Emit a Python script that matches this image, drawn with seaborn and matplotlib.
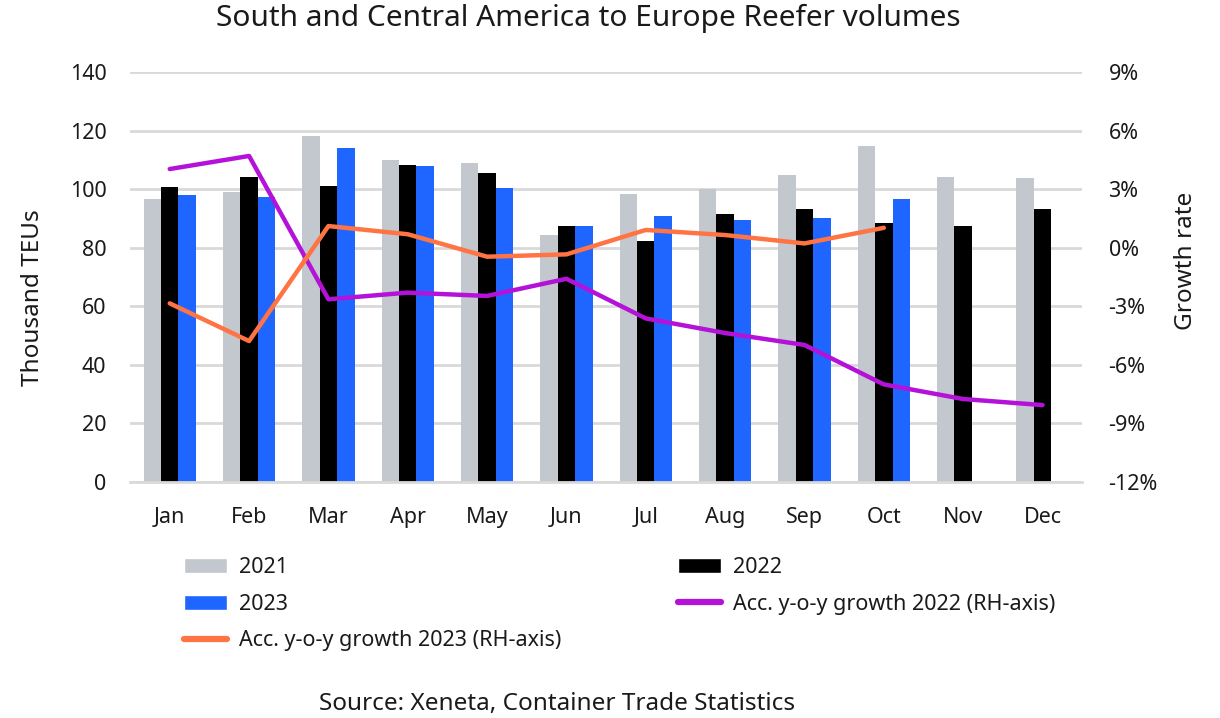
import numpy as np
import pandas as pd
import matplotlib
matplotlib.use("Agg")
import matplotlib.pyplot as plt
import seaborn as sns
from matplotlib.patches import Patch
from matplotlib.lines import Line2D

months = ["Jan", "Feb", "Mar", "Apr", "May", "Jun",
          "Jul", "Aug", "Sep", "Oct", "Nov", "Dec"]
vol_2021 = [96.6, 99.0, 118.2, 109.9, 109.0, 84.2, 98.2, 100.2, 104.7, 114.7, 104.2, 103.9]
vol_2022 = [100.6, 104.2, 101.0, 108.2, 105.4, 87.4, 82.2, 91.4, 93.1, 88.5, 87.4, 93.1]
vol_2023 = [97.9, 97.4, 113.9, 107.9, 100.3, 87.4, 91.0, 89.5, 90.3, 96.6, None, None]
growth_2022 = [4.03, 4.70, -2.64, -2.30, -2.47, -1.59, -3.62, -4.37, -4.98, -7.00, -7.75, -8.06]
growth_2023 = [-2.85, -4.78, 1.11, 0.69, -0.46, -0.34, 0.91, 0.65, 0.22, 1.02, None, None]

left_ticks = [0, 20, 40, 60, 80, 100, 120, 140]
right_ticks = [-12, -9, -6, -3, 0, 3, 6, 9]
right_tick_labels = ["-12%", "-9%", "-6%", "-3%", "0%", "3%", "6%", "9%"]

c21, c22, c23 = "#c3c7ce", "#000000", "#1f65ff"
c_g22, c_g23 = "#b512d9", "#ff7442"
grid_c = "#d9d9d9"
txt_c = "#1a1a1a"
fs = 15.5

sns.set_theme(style="white")
plt.rcParams["font.family"] = ["Noto Sans", "DejaVu Sans"]

rows = []
for yr, vals in (("2021", vol_2021), ("2022", vol_2022), ("2023", vol_2023)):
    for m, v in zip(months, vals):
        rows.append({"month": m, "year": yr, "teu": np.nan if v is None else v})
df = pd.DataFrame(rows)

fig = plt.figure(figsize=(12.2, 7.18), dpi=100)
ax = fig.add_axes([0.1066, 0.3287, 0.7804, 0.571])

sns.barplot(data=df, x="month", y="teu", hue="year", order=months,
            hue_order=["2021", "2022", "2023"],
            palette=[c21, c22, c23], width=0.66, gap=0,
            saturation=1, linewidth=0, ax=ax, legend=False, zorder=2)

ax.set_ylim(0, 140)
ax.set_xlim(-0.5, 11.5)
ax.set_yticks(left_ticks)
ax.yaxis.grid(True, color=grid_c, linewidth=2, zorder=0)
ax.set_axisbelow(True)
for name, s in ax.spines.items():
    s.set_visible(name == "bottom")
ax.spines["bottom"].set_color(grid_c)
ax.spines["bottom"].set_linewidth(2)
ax.set_xticks(np.arange(-0.5, 12, 1), minor=True)
ax.tick_params(axis="x", which="minor", length=6, width=2, color=grid_c)
ax.tick_params(axis="both", which="major", length=0, labelsize=fs, colors=txt_c)
ax.tick_params(axis="x", which="major", pad=18)
ax.tick_params(axis="y", which="major", pad=17)
ax.set_xlabel("")
ax.set_ylabel("Thousand TEUs", fontsize=17.5, color=txt_c)
ax.yaxis.set_label_coords(-0.089, 0.45)

ax2 = ax.twinx()
xs = np.arange(len(months))
g22 = pd.DataFrame({"x": xs, "g": growth_2022})
g23 = pd.DataFrame({"x": xs, "g": [np.nan if v is None else v for v in growth_2023]}).dropna()
sns.lineplot(data=g22, x="x", y="g", color=c_g22, linewidth=3.2, ax=ax2)
sns.lineplot(data=g23, x="x", y="g", color=c_g23, linewidth=3.2, ax=ax2)
ax2.set_ylim(-12, 9)
ax2.set_yticks(right_ticks)
ax2.set_yticklabels(right_tick_labels)
ax2.set_xlim(-0.5, 11.5)
for s in ax2.spines.values():
    s.set_visible(False)
ax2.grid(False)
ax2.tick_params(axis="y", length=0, labelsize=fs, colors=txt_c, pad=19)
ax2.set_xlabel("")
ax2.set_ylabel("Growth rate", fontsize=17.5, color=txt_c)
ax2.yaxis.set_label_coords(1.097, 0.54)

fig.text(0.482, 0.975, "South and Central America to Europe Reefer volumes",
         ha="center", va="center", fontsize=21.5, color=txt_c)

left_handles = [
    Patch(facecolor=c21, label="2021"),
    Patch(facecolor=c23, label="2023"),
    Line2D([0], [0], color=c_g23, linewidth=4.5, label="Acc. y-o-y growth 2023 (RH-axis)"),
]
right_handles = [
    Patch(facecolor=c22, label="2022"),
    Line2D([0], [0], color=c_g22, linewidth=4.5, label="Acc. y-o-y growth 2022 (RH-axis)"),
]
leg_kw = dict(loc="upper left", frameon=False, fontsize=fs, handlelength=2.0,
              handletextpad=0.55, labelspacing=0.72, borderpad=0,
              borderaxespad=0, labelcolor=txt_c)
leg1 = fig.legend(handles=left_handles, bbox_to_anchor=(0.151, 0.224), **leg_kw)
leg2 = fig.legend(handles=right_handles, bbox_to_anchor=(0.556, 0.224), **leg_kw)

fig.text(0.457, 0.02, "Source: Xeneta, Container Trade Statistics",
         ha="center", va="center", fontsize=17.5, color=txt_c)

fig.savefig("out.png", dpi=100, facecolor="white")
